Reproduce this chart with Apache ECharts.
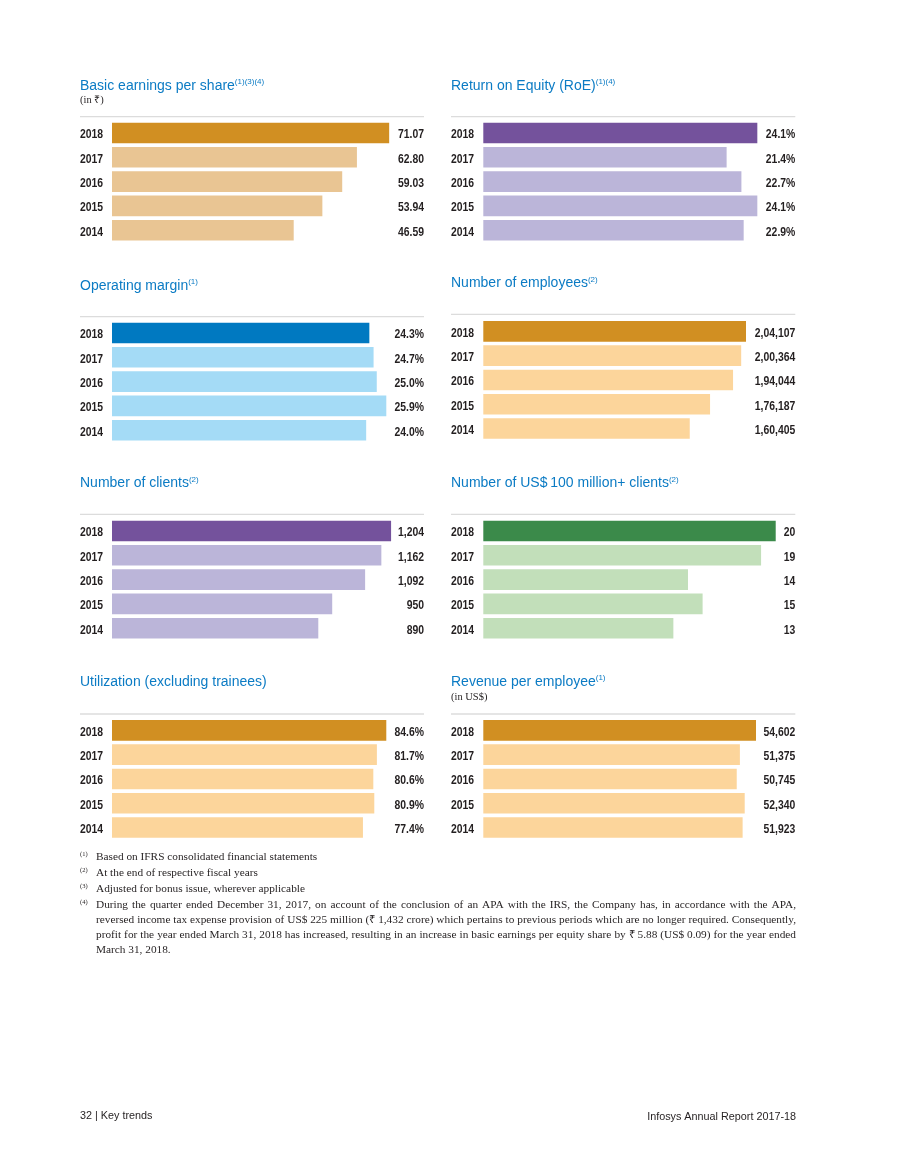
<!DOCTYPE html>
<html>
<head>
<meta charset="utf-8">
<script src="https://cdn.jsdelivr.net/npm/echarts@6/dist/echarts.min.js"></script>
<style>
  html, body { margin: 0; padding: 0; background: #ffffff; }
  #chart { width: 900px; height: 1165px; }
</style>
</head>
<body>
<div id="chart"></div>
<script>
// ---------------- data ----------------
const years = ['2018', '2017', '2016', '2015', '2014'];
const epsValues = [71.07, 62.80, 59.03, 53.94, 46.59];
const roeValues = [24.1, 21.4, 22.7, 24.1, 22.9];
const opMarginValues = [24.3, 24.7, 25.0, 25.9, 24.0];
const employeeValues = [204107, 200364, 194044, 176187, 160405];
const clientValues = [1204, 1162, 1092, 950, 890];
const bigClientValues = [20, 19, 14, 15, 13];
const utilizationValues = [84.6, 81.7, 80.6, 80.9, 77.4];
const revenuePerEmployeeValues = [54602, 51375, 50745, 52340, 51923];

const footnotes = [
  ['(1)', ['Based on IFRS consolidated financial statements']],
  ['(2)', ['At the end of respective fiscal years']],
  ['(3)', ['Adjusted for bonus issue, wherever applicable']],
  ['(4)', [
    'During the quarter ended December 31, 2017, on account of the conclusion of an APA with the IRS, the Company has, in accordance with the APA,',
    'reversed income tax expense provision of US$\u00A0225 million (\u20B9\u00A01,432 crore) which pertains to previous periods which are no longer required. Consequently,',
    'profit for the year ended March 31, 2018 has increased, resulting in an increase in basic earnings per equity share by \u20B9\u00A05.88 (US$\u00A00.09) for the year ended',
    'March 31, 2018.'
  ]]
];

// ---------------- formatters ----------------
function fmtIndian(n) {
  const s = String(n);
  if (s.length <= 3) return s;
  const last3 = s.slice(-3);
  let rest = s.slice(0, -3);
  const parts = [];
  while (rest.length > 2) { parts.unshift(rest.slice(-2)); rest = rest.slice(0, -2); }
  if (rest) parts.unshift(rest);
  return parts.join(',') + ',' + last3;
}
function fmtThousands(n) {
  return String(n).replace(/\B(?=(\d{3})+(?!\d))/g, ',');
}
const fmt2 = v => v.toFixed(2);
const fmtPct = v => v.toFixed(1) + '%';
const fmtInt = v => String(v);

// ---------------- layout ----------------
const SANS = '"Liberation Sans", Arial, Helvetica, sans-serif';
const SERIF = '"Liberation Serif", "Times New Roman", serif';
const LABEL_FONT = 'bold 13px "Liberation Sans", Arial, sans-serif';
const LABEL_SCALE_X = 0.8;   // condensed look
const LABEL_DY = 1.8;        // text sits slightly below bar centre
const NOTE_FONT = '11.3px ' + SERIF;
const BLUE = '#0b7bc4';
const INK = '#231f20';
const GOLD = '#d18f22';

const colX = [{ label: 80, bar: 112, right: 424 }, { label: 451, bar: 483.3, right: 795.3 }];

const panels = [
  { values: epsValues, fmt: fmt2, max: 80, col: 0, top: 120.85, rule: 116.7,
    title: 'Basic earnings per share', sup: '(1)(3)(4)', sub: '(in \u20B9)', titleY: 85.7, subY: 100.7,
    dark: GOLD, light: '#e9c593' },
  { values: roeValues, fmt: fmtPct, max: 27.44, col: 1, top: 120.85, rule: 116.7,
    title: 'Return on Equity (RoE)', sup: '(1)(4)', titleY: 85.7,
    dark: '#74529c', light: '#bbb5d9' },
  { values: opMarginValues, fmt: fmtPct, max: 29.46, col: 0, top: 320.85, rule: 316.7,
    title: 'Operating margin', sup: '(1)', titleY: 285.7,
    dark: '#0079c1', light: '#a4dbf6' },
  { values: employeeValues, fmt: fmtIndian, max: 242410, col: 1, top: 319.2, rule: 314.3,
    title: 'Number of employees', sup: '(2)', titleY: 283.5,
    dark: GOLD, light: '#fcd59b' },
  { values: clientValues, fmt: fmtThousands, max: 1346, col: 0, top: 518.85, rule: 514.3,
    title: 'Number of clients', sup: '(2)', titleY: 483.5,
    dark: '#74529c', light: '#bbb5d9' },
  { values: bigClientValues, fmt: fmtInt, max: 21.34, col: 1, top: 518.85, rule: 514.3,
    title: 'Number of US$\u2009100 million+ clients', sup: '(2)', titleY: 483.5,
    dark: '#3b8a4a', light: '#c2dfba' },
  { values: utilizationValues, fmt: fmtPct, max: 96.23, col: 0, top: 718.2, rule: 714,
    title: 'Utilization (excluding trainees)', sup: '', titleY: 682.5,
    dark: GOLD, light: '#fcd59b' },
  { values: revenuePerEmployeeValues, fmt: fmtThousands, max: 62470, col: 1, top: 718.2, rule: 714,
    title: 'Revenue per employee', sup: '(1)', sub: '(in US$)', titleY: 681.9, subY: 696.9,
    dark: GOLD, light: '#fcd59b' }
];

const grids = [], xAxes = [], yAxes = [], series = [], graphics = [];

panels.forEach((p, i) => {
  const c = colX[p.col];
  grids.push({ left: c.bar, top: p.top, width: c.right - c.bar, height: 121.5 });
  xAxes.push({ type: 'value', gridIndex: i, min: 0, max: p.max, show: false });
  yAxes.push({
    type: 'category', gridIndex: i, data: years, inverse: true,
    axisLine: { show: false }, axisTick: { show: false }, splitLine: { show: false },
    axisLabel: { show: false }
  });
  series.push({
    type: 'bar', xAxisIndex: i, yAxisIndex: i, data: p.values, barWidth: 20.6,
    itemStyle: { color: params => params.dataIndex === 0 ? p.dark : p.light },
    silent: true
  });
  graphics.push({
    type: 'line', silent: true,
    shape: { x1: c.label, y1: p.rule, x2: c.right, y2: p.rule },
    style: { stroke: '#dcdcdc', lineWidth: 1.3 }
  });
  graphics.push({
    type: 'text', x: c.label, y: p.titleY, silent: true,
    style: {
      text: '{t|' + p.title + '}' + (p.sup ? '{s|' + p.sup + '}' : ''),
      verticalAlign: 'middle', align: 'left',
      rich: {
        t: { fontFamily: SANS, fontSize: 14, lineHeight: 16, fill: BLUE },
        s: { fontFamily: SANS, fontSize: 8, lineHeight: 9, verticalAlign: 'top', fill: BLUE }
      }
    }
  });
  if (p.sub) {
    graphics.push({
      type: 'text', x: c.label, y: p.subY, silent: true,
      style: { text: p.sub, font: '10.5px ' + SERIF, fill: INK, verticalAlign: 'middle', align: 'left' }
    });
  }
});

// footnotes (justified like the printed page, last line of a paragraph left-aligned)
const measureCtx = document.createElement('canvas').getContext('2d');
measureCtx.font = NOTE_FONT;
const NOTE_LEFT = 96, NOTE_RIGHT = 796;
let fy = 857;
footnotes.forEach(([mark, lines]) => {
  graphics.push({
    type: 'text', x: 80, y: fy - 3, silent: true,
    style: { text: mark, font: '6.5px ' + SERIF, fill: INK, verticalAlign: 'middle', align: 'left' }
  });
  lines.forEach((ln, k) => {
    const y = fy + k * 15;
    const isLast = k === lines.length - 1;
    if (isLast) {
      graphics.push({
        type: 'text', x: NOTE_LEFT, y: y, silent: true,
        style: { text: ln, font: NOTE_FONT, fill: INK, verticalAlign: 'middle', align: 'left' }
      });
    } else {
      const words = ln.split(' ');
      const widths = words.map(w => measureCtx.measureText(w).width);
      const total = widths.reduce((a, b) => a + b, 0);
      const gap = (NOTE_RIGHT - NOTE_LEFT - total) / (words.length - 1);
      let x = NOTE_LEFT;
      words.forEach((w, j) => {
        graphics.push({
          type: 'text', x: x, y: y, silent: true,
          style: { text: w, font: NOTE_FONT, fill: INK, verticalAlign: 'middle', align: 'left' }
        });
        x += widths[j] + gap;
      });
    }
  });
  fy += 16 + (lines.length - 1) * 15;
});

// footer
graphics.push({
  type: 'text', x: 80, y: 1116, silent: true,
  style: { text: '32 | Key trends', font: '10.8px ' + SANS, fill: INK, verticalAlign: 'middle', align: 'left' }
});
graphics.push({
  type: 'text', x: 796, y: 1117, silent: true,
  style: { text: 'Infosys Annual Report 2017-18', font: '10.8px ' + SANS, fill: INK, verticalAlign: 'middle', align: 'right' }
});

const chart = echarts.init(document.getElementById('chart'), null, { renderer: 'canvas' });
chart.setOption({
  backgroundColor: '#ffffff',
  animation: false,
  grid: grids,
  xAxis: xAxes,
  yAxis: yAxes,
  series: series
});

// year and value labels, placed on each category band through the y axis scale
panels.forEach((p, i) => {
  const c = colX[p.col];
  years.forEach((yr, k) => {
    const y = chart.convertToPixel({ yAxisIndex: i }, yr) + LABEL_DY;
    graphics.push({
      type: 'text', x: c.label, y: y, scaleX: LABEL_SCALE_X, silent: true,
      style: { text: yr, font: LABEL_FONT, fill: INK, align: 'left', verticalAlign: 'middle' }
    });
    graphics.push({
      type: 'text', x: c.right, y: y, scaleX: LABEL_SCALE_X, silent: true,
      style: { text: p.fmt(p.values[k]), font: LABEL_FONT, fill: INK, align: 'right', verticalAlign: 'middle' }
    });
  });
});

chart.setOption({ graphic: graphics });
</script>
</body>
</html>
